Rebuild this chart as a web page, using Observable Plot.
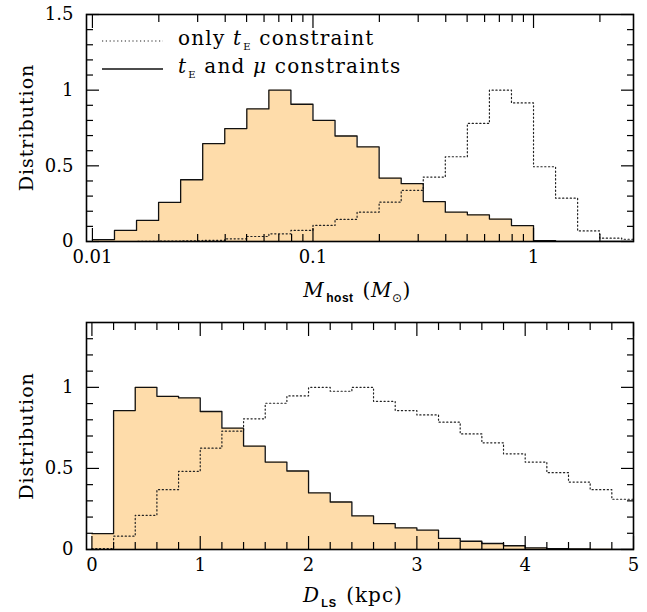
<!DOCTYPE html>
<html><head><meta charset="utf-8">
<script src="https://cdn.jsdelivr.net/npm/d3@7"></script>
<script src="https://cdn.jsdelivr.net/npm/@observablehq/plot@0.6"></script>
<style>body{margin:0;background:#fff} #chart svg{display:block}</style>
</head><body><div id="chart"></div>
<script>
// ---- Top panel: host mass (log10 bin edges, 0.1 dex) ----
const massLogEdges = [-2.0,-1.9,-1.8,-1.7,-1.6,-1.5,-1.4,-1.3,-1.2,-1.1,-1.0,-0.9,-0.8,-0.7,-0.6,-0.5,-0.4,-0.3,-0.2,-0.1,0.0,0.1,0.2,0.3,0.4,0.5];
const massSolid  = [0.013,0.073,0.139,0.258,0.408,0.647,0.746,0.876,1.0,0.907,0.80,0.697,0.625,0.419,0.382,0.264,0.194,0.176,0.148,0.105,0.006,0,0,0,0];
const massDotted = [0,0,0.001,0.003,0.005,0.008,0.018,0.033,0.051,0.073,0.106,0.146,0.194,0.26,0.338,0.426,0.56,0.78,1.0,0.916,0.494,0.286,0.07,0.022,0.015];
const massMajorTicks = [0.01, 0.1, 1];
const massMinorTicks = [0.02,0.03,0.04,0.05,0.06,0.07,0.08,0.09,0.2,0.3,0.4,0.5,0.6,0.7,0.8,0.9,2];
const massDomain = [0.0094, 2.84];

// ---- Bottom panel: D_LS (kpc), 0.2 kpc bins ----
const distEdges = [0,0.2,0.4,0.6,0.8,1.0,1.2,1.4,1.6,1.8,2.0,2.2,2.4,2.6,2.8,3.0,3.2,3.4,3.6,3.8,4.0,4.2,4.4,4.6,4.8,5.0];
const distSolid  = [0.098,0.857,1.0,0.945,0.935,0.851,0.748,0.638,0.539,0.484,0.349,0.293,0.207,0.16,0.133,0.119,0.068,0.051,0.037,0.023,0.010,0.006,0.003,0.001,0];
const distDotted = [0.006,0.082,0.211,0.369,0.482,0.625,0.73,0.806,0.902,0.947,1.0,0.976,1.0,0.914,0.857,0.83,0.785,0.713,0.658,0.59,0.539,0.474,0.416,0.369,0.31];
const distMajorTicks = [0,1,2,3,4,5];
const distMinorTicks = [0.2,0.4,0.6,0.8,1.2,1.4,1.6,1.8,2.2,2.4,2.6,2.8,3.2,3.4,3.6,3.8,4.2,4.4,4.6,4.8];
const distDomain = [-0.05, 5];

const yMajorTop = [0, 0.5, 1, 1.5];
const yMajorBottom = [0, 0.5, 1];
const yMinorTenths = [0.1,0.2,0.3,0.4,0.6,0.7,0.8,0.9,1.1,1.2,1.3,1.4];

const FILL = "#fedcaa";
const SERIF = "'DejaVu Serif', serif";
const SANS = "'Liberation Sans', 'DejaVu Sans', sans-serif";
const W = 647, H = 306;

function stepRows(edges, values, tx) {
  const rows = values.map((v, i) => ({x: tx(edges[i]), y: v}));
  rows.push({x: tx(edges[edges.length - 1]), y: values[values.length - 1]});
  return rows;
}

function tickMarks(xMajor, xMinor, yMajor, yMinor) {
  const none = () => "";
  return [
    Plot.axisX({ticks: xMajor, anchor: "bottom", tickSize: -13, tickFormat: none, label: null, strokeWidth: 1.2}),
    Plot.axisX({ticks: xMinor, anchor: "bottom", tickSize: -7, tickFormat: none, label: null, strokeWidth: 1.2}),
    Plot.axisX({ticks: xMajor, anchor: "top", tickSize: -13, tickFormat: none, label: null, strokeWidth: 1.2}),
    Plot.axisX({ticks: xMinor, anchor: "top", tickSize: -7, tickFormat: none, label: null, strokeWidth: 1.2}),
    Plot.axisY({ticks: yMajor, anchor: "left", tickSize: -13, tickFormat: none, label: null, strokeWidth: 1.2}),
    Plot.axisY({ticks: yMinor, anchor: "left", tickSize: -7, tickFormat: none, label: null, strokeWidth: 1.2}),
    Plot.axisY({ticks: yMajor, anchor: "right", tickSize: -13, tickFormat: none, label: null, strokeWidth: 1.2}),
    Plot.axisY({ticks: yMinor, anchor: "right", tickSize: -7, tickFormat: none, label: null, strokeWidth: 1.2}),
    Plot.axisX({ticks: xMajor, anchor: "bottom", tickSize: 0, tickPadding: 9, tickFormat: d => String(d), label: null, fontFamily: SERIF, fontSize: 18}),
    Plot.axisY({ticks: yMajor, anchor: "left", tickSize: 0, tickPadding: 13, tickFormat: d => String(d), label: null, fontFamily: SERIF, fontSize: 18}),
    Plot.frame({stroke: "black", strokeWidth: 1.6})
  ];
}

function panel({xType, xDomain, yDomain, edges, solid, dotted, tx, xMajor, xMinor, yMajor, marginTop, marginBottom}) {
  const solidSteps = stepRows(edges, solid, tx);
  return Plot.plot({
    width: W, height: H,
    marginLeft: 86, marginRight: 14, marginTop, marginBottom,
    x: {type: xType, domain: xDomain},
    y: {domain: yDomain},
    style: {fontFamily: SERIF, fontSize: "18px", color: "black", background: "white", overflow: "visible"},
    marks: [
      Plot.areaY(solidSteps, {x: "x", y: "y", curve: "step-after", fill: FILL, clip: true}),
      Plot.line(stepRows(edges, dotted, tx), {x: "x", y: "y", curve: "step-after", stroke: "#222", strokeWidth: 1.2, strokeDasharray: "1.2,2.6", clip: true}),
      Plot.line(solidSteps, {x: "x", y: "y", curve: "step-after", stroke: "#111", strokeWidth: 1.3, clip: true}),
      ...tickMarks(xMajor, xMinor, yMajor, yMinorTenths.filter(v => v < yDomain[1]))
    ]
  });
}

const topChart = panel({
  xType: "log", xDomain: massDomain, yDomain: [0, 1.5],
  edges: massLogEdges, solid: massSolid, dotted: massDotted, tx: e => Math.pow(10, e),
  xMajor: massMajorTicks, xMinor: massMinorTicks, yMajor: yMajorTop,
  marginTop: 14, marginBottom: 65
});
const bottomChart = panel({
  xType: "linear", xDomain: distDomain, yDomain: [0, 1.4],
  edges: distEdges, solid: distSolid, dotted: distDotted, tx: e => e,
  xMajor: distMajorTicks, xMinor: distMinorTicks, yMajor: yMajorBottom,
  marginTop: 16, marginBottom: 63
});

const chart = document.getElementById("chart");
chart.appendChild(topChart);
chart.appendChild(bottomChart);

function yLabel(svg, cy) {
  d3.select(svg).append("text")
    .attr("transform", `translate(33,${cy}) rotate(-90)`)
    .attr("text-anchor", "middle").attr("fill", "black")
    .attr("font-family", SERIF).attr("font-size", 19).attr("letter-spacing", 1)
    .text("Distribution");
}
yLabel(topChart, 127.5);
yLabel(bottomChart, 130);

// x-axis titles
(function () {
  const t = d3.select(topChart).append("text").attr("x", 357).attr("y", 297)
    .attr("text-anchor", "middle").attr("fill", "black").attr("font-family", SERIF)
    .attr("font-size", 20).attr("letter-spacing", 0.5);
  t.append("tspan").attr("font-style", "italic").text("M");
  t.append("tspan").attr("font-family", SANS).attr("font-weight", "bold").attr("font-size", 12).attr("dy", 5).attr("dx", 2).text("host");
  t.append("tspan").attr("dy", -5).attr("dx", 9).text("(");
  t.append("tspan").attr("font-style", "italic").text("M");
  t.append("tspan").attr("font-family", "'DejaVu Sans', sans-serif").attr("font-size", 12).attr("dy", 5).text("\u2299");
  t.append("tspan").attr("dy", -5).text(")");

  const b = d3.select(bottomChart).append("text").attr("x", 353).attr("y", 296)
    .attr("text-anchor", "middle").attr("fill", "black").attr("font-family", SERIF)
    .attr("font-size", 20).attr("letter-spacing", 1);
  b.append("tspan").attr("font-style", "italic").text("D");
  b.append("tspan").attr("font-family", SANS).attr("font-weight", "bold").attr("font-size", 11).attr("dy", 5).attr("dx", 1).text("LS");
  b.append("tspan").attr("dy", -5).attr("dx", 9).text("(kpc)");
})();

// legend
(function () {
  const g = d3.select(topChart).append("g").attr("text-anchor", "start");
  g.append("line").attr("x1", 102).attr("x2", 163).attr("y1", 41).attr("y2", 41)
    .attr("stroke", "#222").attr("stroke-width", 1.2).attr("stroke-dasharray", "1.2,2.6");
  g.append("line").attr("x1", 102).attr("x2", 163).attr("y1", 69).attr("y2", 69)
    .attr("stroke", "#111").attr("stroke-width", 1.3);
  const mk = (y) => g.append("text").attr("x", 178).attr("y", y).attr("text-anchor", "start")
    .attr("fill", "black").attr("font-family", SERIF).attr("font-size", 20).attr("letter-spacing", 1.2);
  const t1 = mk(45);
  t1.append("tspan").text("only ");
  t1.append("tspan").attr("font-style", "italic").text("t");
  t1.append("tspan").attr("font-size", 10).attr("dy", 5).attr("dx", 1).text("E");
  t1.append("tspan").attr("dy", -5).text(" constraint");
  const t2 = mk(73);
  t2.append("tspan").attr("font-style", "italic").text("t");
  t2.append("tspan").attr("font-size", 10).attr("dy", 5).attr("dx", 1).text("E");
  t2.append("tspan").attr("dy", -5).text(" and ");
  t2.append("tspan").attr("font-style", "italic").text("\u03bc");
  t2.append("tspan").text(" constraints");
})();
</script>
</body></html>
